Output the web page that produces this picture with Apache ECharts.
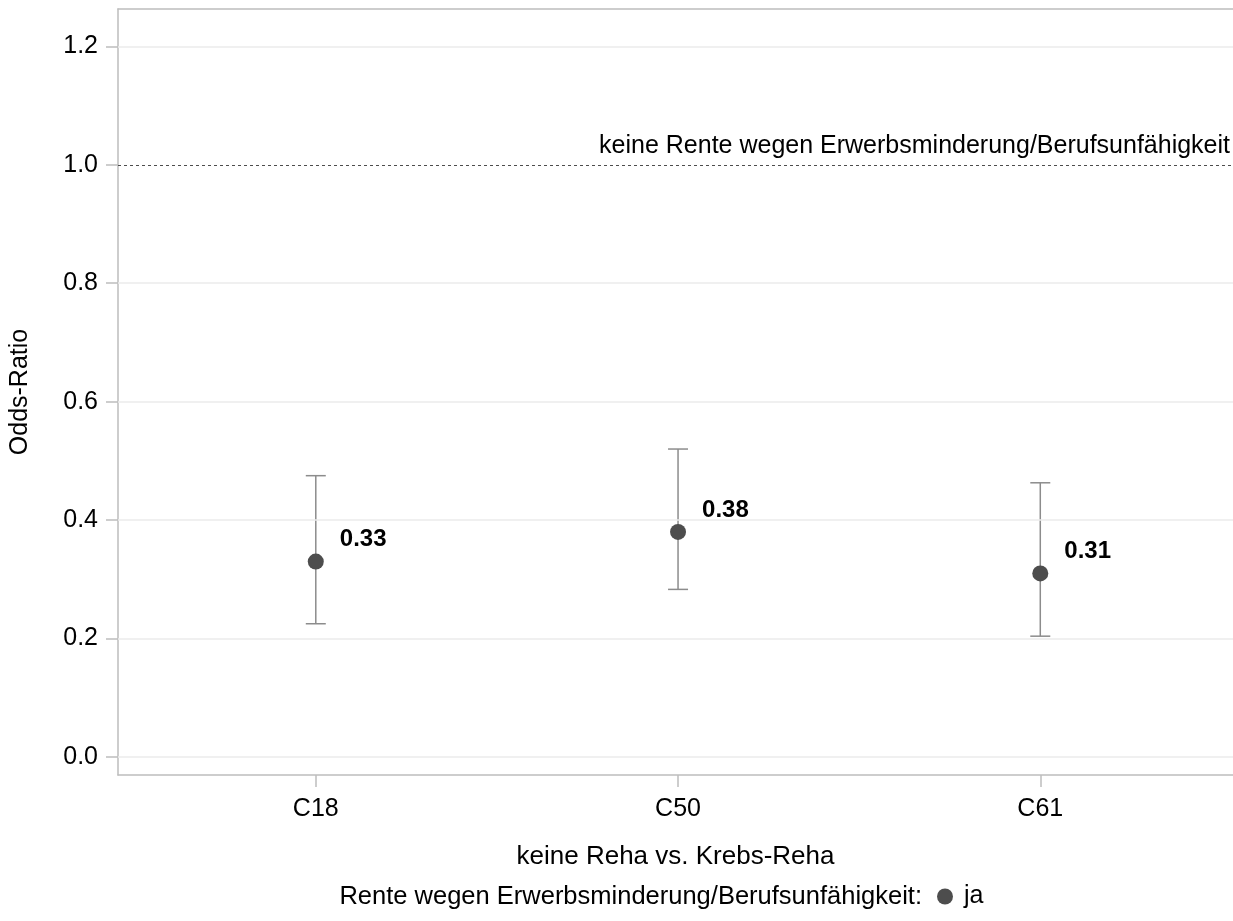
<!DOCTYPE html>
<html>
<head>
<meta charset="utf-8">
<script src="https://cdn.jsdelivr.net/npm/echarts@6/dist/echarts.min.js"></script>
<style>
html,body{margin:0;padding:0;background:#fff;}
#chart{width:1233px;height:921px;}
</style>
</head>
<body>
<div id="chart"></div>
<script>
// ---- data ----
const categories = ['C18', 'C50', 'C61'];
const oddsRatio = [0.33, 0.38, 0.31];
const ciLower = [0.225, 0.283, 0.204];
const ciUpper = [0.475, 0.520, 0.463];
const yTicks = [0.0, 0.2, 0.4, 0.6, 0.8, 1.0, 1.2];
const refValue = 1.0;
const refLabel = 'keine Rente wegen Erwerbsminderung/Berufsunfähigkeit';
const xTitle = 'keine Reha vs. Krebs-Reha';
const yTitle = 'Odds-Ratio';
const legendTitle = 'Rente wegen Erwerbsminderung/Berufsunfähigkeit:';
const seriesName = 'ja';

const FONT = '"Liberation Sans", Arial, sans-serif';
const xPos = categories.map((c, i) => i + 1);

const chart = echarts.init(document.getElementById('chart'), null, {renderer: 'canvas'});

const option = {
  backgroundColor: '#ffffff',
  animation: false,
  textStyle: {fontFamily: FONT},
  grid: {left: 117, right: 0, top: 9, bottom: 146, containLabel: false},
  xAxis: [{
    type: 'value',
    min: 0.454,
    max: 3.532,
    name: xTitle,
    nameLocation: 'middle',
    nameGap: 69,
    nameTextStyle: {fontSize: 26, color: '#000', fontFamily: FONT},
    axisLine: {show: true, onZero: false, lineStyle: {color: '#bdbdbd', width: 1.5}},
    axisTick: {show: true, length: 12, customValues: xPos, lineStyle: {color: '#bdbdbd', width: 1.5}},
    axisLabel: {
      show: true, customValues: xPos, margin: 22, fontSize: 25, color: '#000', fontFamily: FONT,
      formatter: v => categories[Math.round(v) - 1] || ''
    },
    splitLine: {show: false}
  }, {
    type: 'value',
    position: 'top',
    min: 0.454,
    max: 3.532,
    axisLine: {show: true, onZero: false, lineStyle: {color: '#bdbdbd', width: 1.5}},
    axisTick: {show: false},
    axisLabel: {show: false},
    splitLine: {show: false}
  }],
  yAxis: {
    type: 'value',
    min: -0.0304,
    max: 1.263,
    name: yTitle,
    nameLocation: 'middle',
    nameGap: 85,
    nameRotate: 90,
    nameTextStyle: {fontSize: 25, color: '#000', fontFamily: FONT},
    axisLine: {show: true, onZero: false, lineStyle: {color: '#bdbdbd', width: 1.5}},
    axisTick: {show: true, length: 12, customValues: yTicks, lineStyle: {color: '#bdbdbd', width: 1.5}},
    axisLabel: {
      show: true, customValues: yTicks, margin: 20, fontSize: 25, color: '#000', fontFamily: FONT,
      formatter: v => v.toFixed(1)
    },
    splitLine: {show: false}
  },
  legend: {
    data: [seriesName],
    left: 932,
    top: 879,
    icon: 'circle',
    itemWidth: 16,
    itemHeight: 16,
    textStyle: {fontSize: 25, color: '#000', fontFamily: FONT, padding: [0, 0, 0, 6]}
  },
  graphic: [{
    type: 'text',
    x: 922,
    y: 897,
    style: {
      text: legendTitle,
      fill: '#000',
      font: '25.5px ' + FONT,
      align: 'right',
      verticalAlign: 'middle'
    }
  }],
  series: [
    {
      name: 'grid',
      type: 'line',
      data: [],
      silent: true,
      markLine: {
        silent: true,
        symbol: 'none',
        label: {show: false},
        lineStyle: {color: '#ebebeb', width: 1.5, type: 'solid'},
        data: yTicks.filter(v => v !== refValue).map(v => ({yAxis: v}))
      }
    },
    {
      name: 'ref',
      type: 'line',
      data: [],
      silent: true,
      markLine: {
        silent: true,
        symbol: 'none',
        lineStyle: {color: '#4d4d4d', width: 1, type: [3, 3]},
        label: {
          show: true,
          position: 'insideEndTop',
          formatter: refLabel,
          fontSize: 25,
          color: '#000',
          fontFamily: FONT,
          distance: [3, 6]
        },
        data: [{yAxis: refValue}]
      }
    },
    {
      name: 'ci',
      type: 'custom',
      silent: true,
      data: xPos.map((x, i) => [x, ciLower[i], ciUpper[i]]),
      renderItem: function (params, api) {
        const x = api.value(0);
        const lo = api.coord([x, api.value(1)]);
        const hi = api.coord([x, api.value(2)]);
        const hw = 10;
        const st = {stroke: '#8c8c8c', lineWidth: 1.5};
        return {
          type: 'group',
          children: [
            {type: 'line', shape: {x1: lo[0], y1: lo[1], x2: hi[0], y2: hi[1]}, style: st},
            {type: 'line', shape: {x1: lo[0] - hw, y1: lo[1], x2: lo[0] + hw, y2: lo[1]}, style: st},
            {type: 'line', shape: {x1: hi[0] - hw, y1: hi[1], x2: hi[0] + hw, y2: hi[1]}, style: st}
          ]
        };
      },
      z: 3
    },
    {
      name: seriesName,
      type: 'scatter',
      symbol: 'circle',
      symbolSize: 16,
      itemStyle: {color: '#4d4d4d', opacity: 1},
      data: xPos.map((x, i) => [x, oddsRatio[i]]),
      label: {
        show: true,
        position: 'right',
        offset: [11, -22],
        formatter: p => p.value[1].toFixed(2),
        fontSize: 24,
        fontWeight: 'bold',
        color: '#000',
        fontFamily: FONT
      },
      z: 5
    }
  ]
};

chart.setOption(option);
</script>
</body>
</html>
